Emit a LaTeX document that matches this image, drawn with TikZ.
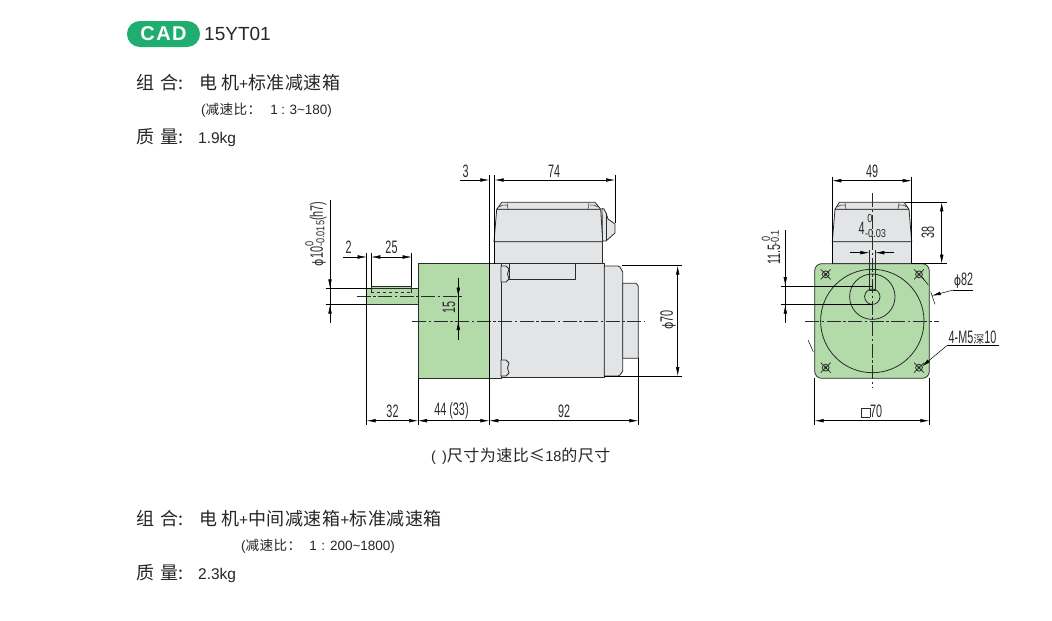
\documentclass[tikz,border=0pt]{standalone}
\usepackage{fontspec}
\usetikzlibrary{arrows.meta}
\setmainfont{Liberation Sans}
\newfontfamily\cjk[LetterSpace=3]{Noto Sans CJK SC}
\newfontfamily\dimf[FakeStretch=0.6]{Liberation Sans}
\newfontfamily\subff[FakeStretch=0.8]{Liberation Sans}
\definecolor{gboxc}{HTML}{B3DAA9}
\definecolor{greyc}{HTML}{E3E4E5}
\definecolor{capc}{HTML}{1FAE6F}
\definecolor{linec}{HTML}{2A2A2A}
\newcommand{\sqbx}{{\fboxsep=0pt\fboxrule=.6pt\raisebox{.5pt}{\fbox{\rule{8pt}{0pt}\rule{0pt}{8.5pt}}}}}
\newcommand{\zhl}[1]{{\cjk\fontsize{18}{18}\selectfont #1}}
\newcommand{\zhs}[1]{{\cjk\fontsize{13.6}{14}\selectfont #1}}
\newcommand{\zhn}[1]{{\cjk\fontsize{16}{17}\selectfont #1}}
\newcommand{\subf}{\subff\fontsize{11.5}{11.5}\selectfont}
\newcommand{\phis}{{\fontspec{DejaVu Sans}[FakeStretch=0.8]\fontsize{14}{14}\selectfont ϕ}}
\tikzset{
 outl/.style={draw=linec,line width=0.8pt,line join=round},
 thin1/.style={draw=black,line width=0.5pt},
 cline/.style={draw=linec,line width=0.6pt,dash pattern=on 14pt off 2.5pt on 2.5pt off 2.5pt},
 dimarr/.style={draw=black,line width=0.5pt,{Latex[length=9pt,width=3.6pt]}-{Latex[length=9pt,width=3.6pt]}},
 arrR/.style={draw=black,line width=0.5pt,-{Latex[length=9pt,width=3.6pt]}},
 dimt/.style={font=\dimf\fontsize{18}{18}\selectfont,text=linec,inner sep=0pt},
 dimts/.style={font=\subf,text=linec,inner sep=0pt},
 lab/.style={font=\fontsize{15.5}{18}\selectfont,text=black!85,anchor=west,inner sep=0pt},
 labs/.style={font=\fontsize{13.5}{14}\selectfont,text=black!85,anchor=west,inner sep=0pt},
 labn/.style={font=\fontsize{14.5}{14}\selectfont,text=black!85,anchor=west,inner sep=0pt},
 bolt/.style={draw=linec,line width=0.8pt},
}
\begin{document}
\begin{tikzpicture}[x=1pt,y=-1pt]
\useasboundingbox (0,0) rectangle (1052,621);
\fill[white] (0,0) rectangle (1052,621);
% header
\node[fill=capc,rounded corners=12.9pt,minimum width=73pt,minimum height=26pt,inner sep=0pt,text=white,font=\fontsize{20}{20}\selectfont\bfseries] (cad) at (163.5,34) {C\kern1.5pt A\kern1.5pt D};
\node[font=\fontsize{19}{19}\selectfont,text=black!85,anchor=west,inner sep=0pt] (code) at (204,34) {15YT01};
\node[lab] (l1) at (136,83) {\zhl{组\hspace{6pt}合:}};
\node[lab] (l1b) at (199,83) {\zhl{电\hspace{4pt}机}+\zhl{标准减速箱}};
\node[labs] (l2) at (201,110.5) {(\zhs{减速比^^^^ff1a}\hspace{9pt}1\hspace{3.5pt}:\hspace{4.5pt}3\textasciitilde 180)};
\node[lab] (l3) at (136,137) {\zhl{质\hspace{6pt}量:}};
\node[lab] (l3b) at (198,139) {1.9kg};
\node[labn] (note) at (431,456) {(\hspace{6pt})\zhn{尺寸为速比}\zhn{≤}18\zhn{的尺寸}};
\node[lab] (l4) at (136,519) {\zhl{组\hspace{6pt}合:}};
\node[lab] (l4b) at (199,519) {\zhl{电\hspace{4pt}机}+\zhl{中间减速箱}+\zhl{标准减速箱}};
\node[labs] (l5) at (241,546.5) {(\zhs{减速比^^^^ff1a}\hspace{8pt}1\hspace{4.5pt}:\hspace{5pt}200\textasciitilde 1800)};
\node[lab] (l6) at (136,573) {\zhl{质\hspace{6pt}量:}};
\node[lab] (l6b) at (198,575) {2.3kg};
% side view: fills
\path[fill=gboxc,outl] (366.7,288.3) rectangle (418,304.7);
\path[fill=gboxc,outl] (371.3,286.3) rectangle (411.7,288.3);
\draw[outl,line width=.5pt] (371.3,288.3) -- (371.3,292.7) (411.7,288.3) -- (411.7,292.7);
\draw[outl,dashed,line width=.6pt] (371.3,292.7) -- (411.7,292.7);
\path[fill=gboxc,outl] (418,263.7) rectangle (489.5,378.3);
\path[fill=greyc,outl] (489.5,263.7) rectangle (501,378.3);
\path[fill=greyc,outl] (501,263.7) rectangle (604.3,377.3);
\path[fill=greyc,outl] (604.3,266) -- (618,266) -- (620,267) -- (622.7,272) -- (622.7,371) -- (620,375) -- (618,376) -- (604.3,376) -- cycle;
\path[fill=greyc,outl] (622.7,283.3) -- (636,283.3) -- (638.3,286) -- (638.3,358.3) -- (622.7,358.3) -- cycle;
\path[fill=greyc,outl] (509,263.7) rectangle (575.7,279.3);
\foreach \yy in {266,360}{\path[fill=greyc,outl] (501,\yy) -- (506,\yy) -- (509,{\yy+3}) -- (507.5,{\yy+8}) -- (509,{\yy+13}) -- (506,{\yy+16}) -- (501,{\yy+16}) -- cycle;}
% terminal box side
\path[fill=greyc,outl] (602,208.5) -- (604,209) -- (606,213) -- (608,219) -- (615,224) -- (615,233) -- (606,241) -- (602.5,241) -- cycle;
\draw[outl,line width=.5pt] (606,213) -- (606,241);
\path[fill=greyc,outl] (494,241.7) rectangle (602.7,263.7);
\path[fill=greyc,outl] (494,241.7) -- (496.7,209.3) -- (600.7,209.3) -- (602.7,241.7) -- cycle;
\path[fill=greyc,outl] (496.7,209.3) -- (501.7,202.3) -- (595,202.3) -- (600.7,209.3) -- cycle;
\draw[outl,line width=.5pt] (507,203) -- (508,209.3) (589,203) -- (588,209.3) (499,207) -- (503,205) -- (507,205) (598,207) -- (594,205) -- (590,205);
% front view
\path[fill=greyc,outl] (832.3,241.7) rectangle (911.7,263.7);
\path[fill=greyc,outl] (832.3,241.7) -- (835,209.3) -- (909,209.3) -- (911.7,241.7) -- cycle;
\path[fill=greyc,outl] (835,209.3) -- (839.3,202.3) -- (904,202.3) -- (909,209.3) -- cycle;
\draw[outl,line width=.5pt] (845,203) -- (846,209.3) (899,203) -- (898,209.3) (837,207) -- (841,205) -- (845,205) (907,207) -- (903,205) -- (899,205);
\path[fill=gboxc,outl,rounded corners=7pt] (814.7,263.7) rectangle (929.3,378.3);
\draw[outl] (872.3,321) circle (51.7);
\draw[outl] (872.3,296.7) circle (22.7);
\draw[outl] (872.3,296.7) circle (7.7);
\draw[outl] (869.3,250) -- (869.3,290) -- (875.3,290) -- (875.3,250);
\foreach \bx/\by in {825.7/274.3,919/274.3,825.7/367.7,919/367.7}{
 \draw[bolt] (\bx,\by) circle (3.4);
 \draw[bolt,line width=.7pt] (\bx-5,\by-5) -- (\bx+5,\by+5) (\bx-5,\by+5) -- (\bx+5,\by-5);
 \fill[linec] (\bx,\by) circle (1.5);}
% centre lines
\draw[cline] (412,321) -- (645,321);
\draw[cline] (356.7,296.7) -- (463,296.7);
\draw[cline] (805,321) -- (939,321);
\draw[cline] (872.3,193) -- (872.3,387);
% side dims: named anchors
\coordinate (e1a) at (366.7,252.7); \coordinate (e1b) at (366.7,425);
\coordinate (e2a) at (371.3,252.7); \coordinate (e2b) at (371.3,286.3);
\coordinate (e3a) at (411.7,252.7); \coordinate (e3b) at (411.7,286.3);
\coordinate (e4a) at (418,378.3);   \coordinate (e4b) at (418,425);
\coordinate (e5a) at (489.3,175);   \coordinate (e5b) at (489.3,425);
\coordinate (e6a) at (494.7,175);   \coordinate (e6b) at (494.7,263.7);
\coordinate (e7a) at (615,175);     \coordinate (e7b) at (615,223);
\coordinate (e8a) at (638.3,358);   \coordinate (e8b) at (638.3,425);
\draw[thin1] (e1a)--(e1b) (e2a)--(e2b) (e3a)--(e3b) (e4a)--(e4b) (e5a)--(e5b) (e6a)--(e6b) (e7a)--(e7b) (e8a)--(e8b);
\draw[thin1] (622,265.7) -- (682,265.7) (604,376) -- (682,376);
\draw[thin1] (325.7,288.3) -- (371,288.3) (325.7,304.7) -- (367,304.7);
% dim 2 /25
\coordinate (d2s) at (342.7,257);
\draw[arrR] (d2s) -- (366.7,257);
\draw[dimarr] (371.3,257) -- (411.7,257);
\node[dimt] (t2) at (348.5,247.5) {2};
\node[dimt] (t25) at (391.5,247.5) {25};
% 3
\coordinate (d3s) at (460,180);
\draw[arrR] (d3s) -- (489.3,180);
\node[dimt] (t3) at (465.5,171) {3};
\draw[dimarr] (494.7,180) -- (615,180);
\node[dimt] (t74) at (554,171) {74};
% bottom
\draw[dimarr] (366.7,420.7) -- (418,420.7);
\draw[dimarr] (418,420.7) -- (489.3,420.7);
\draw[dimarr] (489.3,420.7) -- (638.3,420.7);
\node[dimt] (t32) at (392.5,411) {32};
\node[dimt] (t44) at (451.5,411) {44 (33)};
\node[dimt] (t92) at (564,411) {92};
% phi 10
\draw[thin1] (330,200) -- (330,323);
\draw[arrR] (330,272) -- (330,288.3);
\draw[arrR] (330,321) -- (330,304.7);
\node[dimt,rotate=90,anchor=center] (tp10) at (316,234) {\phis 10\raisebox{-1.5pt}{\hbox to 0pt{\raisebox{11pt}{\subf 0}\hss}\subf -0.015}(h7)};
% 15
\draw[thin1] (458.3,278.3) -- (458.3,340);
\draw[arrR] (458.3,280) -- (458.3,296.7);
\draw[arrR] (458.3,338) -- (458.3,321);
\node[dimt,rotate=90] (t15) at (449,307) {15};
% phi70
\draw[dimarr] (677.7,265.7) -- (677.7,376);
\node[dimt,rotate=90] (t70) at (668,320) {\phis 70};
% front dims
\draw[thin1] (832.3,176.7) -- (832.3,263.7) (911.7,176.7) -- (911.7,263.7);
\draw[dimarr] (832.3,180.7) -- (911.7,180.7);
\node[dimt] (t49) at (872,171) {49};
\draw[thin1] (905,202.3) -- (946.7,202.3) (911,263.7) -- (946.7,263.7);
\draw[dimarr] (941.7,202.3) -- (941.7,263.7);
\node[dimt,rotate=90] (t38) at (928,232.7) {38};
\node[dimt] (t4) at (861.5,228.5) {4};
\node[dimts] (t40) at (870,218.3) {0};
\node[dimts] (t403) at (875.5,233.3) {-0.03};
\draw[arrR] (850,252.7) -- (869.3,252.7);
\draw[arrR] (894.3,252.7) -- (875.3,252.7);
% 11.5
\draw[thin1] (785.3,230) -- (785.3,323);
\draw[arrR] (785.3,270) -- (785.3,286);
\draw[arrR] (785.3,321) -- (785.3,304.7);
\draw[thin1] (780.7,286) -- (873,286) (780.7,304.7) -- (872,304.7);
\node[dimt,rotate=90] (t115) at (774,254.5) {11.5};
\node[dimts,rotate=90] (t1150) at (766,238.5) {0};
\node[dimts,rotate=90] (t115m) at (775,238) {-0.1};
% phi82
\draw[thin1] (973.3,290) -- (953.3,290);
\draw[arrR] (953.3,290) -- (931.7,295.7);
\draw[thin1] (930.7,291.7) -- (935,304.3);
\draw[thin1] (921.7,276.7) -- (928.3,285);
\draw[thin1] (808,340) -- (813.3,351.7);
\node[dimt] (t82) at (963.5,280.5) {\phis 82};
% 4-M5
\draw[thin1] (999.3,345.7) -- (946.7,345.7);
\draw[arrR] (946.7,345.7) -- (921.7,366.7);
\node[dimt,inner sep=0pt] (tm5) at (972.5,338) {4-M5{\cjk\fontsize{11}{11}\selectfont 深}10};
% box 70
\draw[thin1] (814.7,378) -- (814.7,425) (929.3,378) -- (929.3,425);
\draw[dimarr] (814.7,420.7) -- (929.3,420.7);
\node[dimt] (t70b) at (871.5,411) {\sqbx 70};
\end{tikzpicture}
\end{document}
